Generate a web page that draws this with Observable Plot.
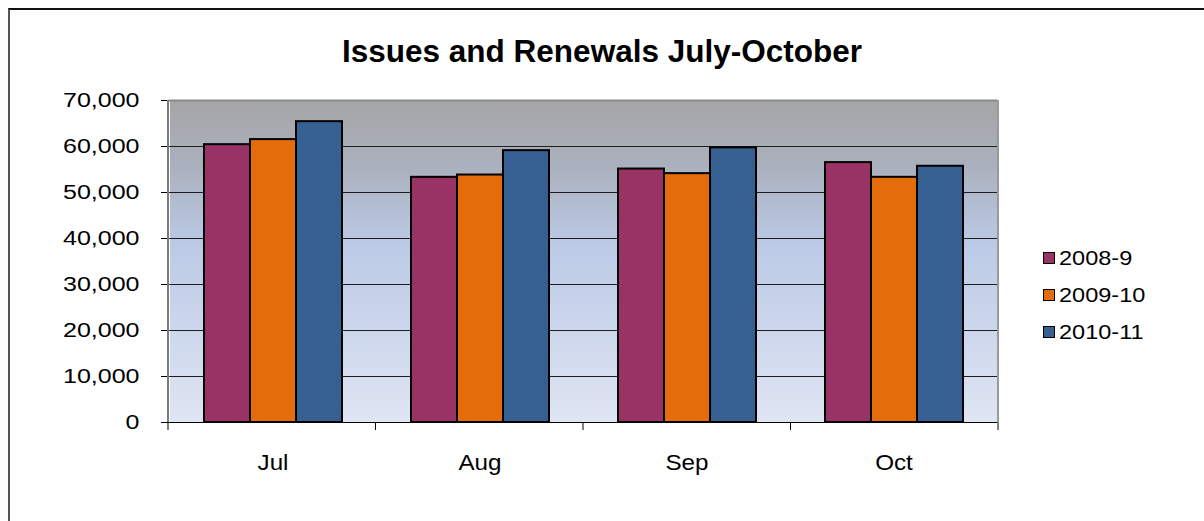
<!DOCTYPE html>
<html>
<head>
<meta charset="utf-8">
<script src="https://cdn.jsdelivr.net/npm/d3@7"></script>
<script src="https://cdn.jsdelivr.net/npm/@observablehq/plot@0.6"></script>
<style>
  html, body { margin: 0; padding: 0; background: #fff; }
  #wrap { position: relative; width: 1204px; height: 521px; overflow: hidden; font-family: "Liberation Sans", Arial, sans-serif; }
  #border { position: absolute; left: 8px; top: 8px; width: 1400px; height: 800px; border-top: 2px solid #111; border-left: 2px solid #555; box-sizing: border-box; }
  #title { position: absolute; left: 0; width: 1204px; top: 36px; text-align: center; font-weight: bold; font-size: 31.5px; line-height: 31px; color: #000; }
  #legend { position: absolute; left: 1043px; top: 239px; }
  .item { display: flex; align-items: center; height: 37px; font-size: 21px; color: #000; }
  .sw { width: 10px; height: 10px; border: 1.5px solid #000; margin-right: 4px; }
  .lt { display: inline-block; transform: scaleX(1.12); transform-origin: left center; }
  #chart { position: absolute; left: 0; top: 0; }
</style>
</head>
<body>
<div id="wrap">
  <div id="border"></div>
  <div id="chart"></div>
  <div id="title">Issues and Renewals July-October</div>
  <div id="legend"></div>
</div>
<script>
const months = ["Jul", "Aug", "Sep", "Oct"];
const series = ["2008-9", "2009-10", "2010-11"];
const values2008 = [60400, 53300, 55100, 56500];
const values2009 = [61500, 53800, 54100, 53300];
const values2010 = [65400, 59100, 59700, 55700];
const yTicks = [0, 10000, 20000, 30000, 40000, 50000, 60000, 70000];
const colors = ["#993366", "#e46c0a", "#366092"];

const seriesValues = [values2008, values2009, values2010];
const data = [];
months.forEach((m, i) => series.forEach((s, j) => data.push({month: m, series: s, value: seriesValues[j][i]})));

const fmt = d3.format(",.0f");

const chart = Plot.plot({
  width: 1204,
  height: 521,
  marginLeft: 168,
  marginRight: 206,
  marginTop: 100,
  marginBottom: 99,
  style: {background: "transparent", fontFamily: "Liberation Sans, Arial, sans-serif", fontSize: "20px", color: "#000"},
  facet: {data, x: "month"},
  fx: {domain: months, padding: 0, axis: "bottom", tickSize: 0, tickPadding: 32, label: null},
  x: {domain: series, paddingInner: 0, paddingOuter: 0.75, axis: null},
  y: {domain: [0, 70000], ticks: yTicks, tickFormat: d => fmt(d), tickSize: 8, tickPadding: 22, label: null},
  color: {domain: series, range: colors},
  marks: [
    Plot.frame({fill: "url(#bggrad)", stroke: "none", shapeRendering: "crispEdges", insetRight: -1}),
    Plot.ruleY(yTicks.slice(1, -1), {stroke: "#1e1e1e", strokeWidth: 1}),
    Plot.ruleY(yTicks.slice(-1), {stroke: "#8a8a8a", strokeWidth: 2}),
    Plot.barY(data, {x: "series", y: "value", fill: "series", stroke: "#000", strokeWidth: 2}),
    Plot.ruleY(yTicks.slice(0, 1), {stroke: "#000", strokeWidth: 1})
  ]
});

const svg = d3.select(chart.tagName.toLowerCase() === "svg" ? chart : chart.querySelector("svg"));
const defs = svg.insert("defs", ":first-child");
const grad = defs.append("linearGradient").attr("id", "bggrad").attr("x1", 0).attr("y1", 0).attr("x2", 0).attr("y2", 1);
[[0, "#a5a5a5"], [0.2, "#aab0bd"], [0.45, "#bccae6"], [1, "#dfe5f3"]].forEach(([o, c]) =>
  grad.append("stop").attr("offset", o).attr("stop-color", c));

svg.selectAll('[aria-label^="y-axis"] .domain').remove();
svg.selectAll('[aria-label^="fx-axis"] text').style("font-size", "22px");

// plot-area border and category tick marks, positioned by Plot's own scales
const ys = chart.scale("y");
const fxs = chart.scale("fx");
const yScale = d3.scaleLinear().domain(ys.domain).range(ys.range);
const fxScale = d3.scaleBand().domain(fxs.domain).range(fxs.range).paddingInner(fxs.paddingInner ?? 0).paddingOuter(fxs.paddingOuter ?? 0);
const x0 = fxs.range[0], x1 = fxs.range[1];
const deco = svg.append("g");
deco.append("line").attr("x1", x0).attr("x2", x0).attr("y1", yScale(ys.domain[1])).attr("y2", yScale(0)).attr("stroke", "#7a7a7a").attr("stroke-width", 2);
deco.append("line").attr("x1", x1).attr("x2", x1).attr("y1", yScale(ys.domain[1])).attr("y2", yScale(0)).attr("stroke", "#9a9a9a").attr("stroke-width", 2);
const bounds = fxs.domain.map(d => fxScale(d)).concat([fxScale(fxs.domain[fxs.domain.length - 1]) + fxScale.bandwidth()]);
bounds.forEach(b => deco.append("line").attr("x1", b).attr("x2", b).attr("y1", yScale(0)).attr("y2", yScale(0) + 8).attr("stroke", "#000"));

document.getElementById("chart").appendChild(chart);

// widen the axis labels the way the original rendering does
function stretch(sel, k) {
  sel.each(function() {
    const w = this.getComputedTextLength();
    if (w > 0) {
      this.setAttribute("textLength", (w * k).toFixed(1));
      this.setAttribute("lengthAdjust", "spacingAndGlyphs");
    }
  });
}
stretch(svg.selectAll('[aria-label^="y-axis"] text'), 1.25);
stretch(svg.selectAll('[aria-label^="fx-axis"] text'), 1.1);

const legend = d3.select("#legend");
series.forEach((s, i) => {
  const it = legend.append("div").attr("class", "item");
  it.append("div").attr("class", "sw").style("background", colors[i]);
  it.append("span").attr("class", "lt").text(s);
});
</script>
</body>
</html>
